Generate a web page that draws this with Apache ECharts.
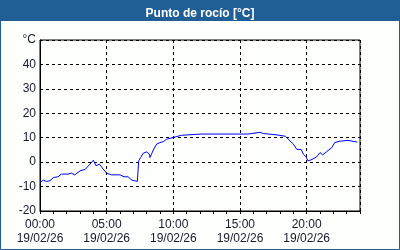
<!DOCTYPE html>
<html><head><meta charset="utf-8">
<script src="https://cdn.jsdelivr.net/npm/echarts@6/dist/echarts.min.js"></script>
<style>html,body{margin:0;padding:0;background:#fdfffd}#c{width:400px;height:250px}</style>
</head><body><div id="c"></div>
<script>
const titleText = 'Punto de rocío [°C]';
const dateLabel = '19/02/26';
const yUnitLabel = '°C';
// time in hours since 00:00
const hours = [0.0,0.25,0.5,0.75,1.0,1.35,1.6,2.1,2.35,2.6,3.0,3.4,3.75,4.0,4.2,4.45,4.75,5.0,5.35,6.0,6.3,6.6,6.9,7.1,7.3,7.4,7.55,7.75,8.0,8.2,8.25,8.5,8.75,9.0,9.25,9.5,10.0,10.6,12.1,15.6,15.75,16.5,16.75,17.7,18.4,18.75,19.0,19.25,19.6,19.75,19.95,20.1,20.4,20.75,21.0,21.2,21.5,21.9,22.1,22.5,23.1,23.8];
const dewPoint = [-8.3,-7.4,-7.9,-7.6,-6.3,-6.0,-4.9,-4.9,-4.5,-5.2,-3.6,-2.9,-0.8,0.8,-1.5,-0.8,-2.9,-4.5,-5.2,-5.2,-6.0,-6.0,-7.4,-7.6,-7.9,0.5,1.9,3.7,4.2,3.3,1.9,5.0,7.4,8.0,8.4,9.4,10.1,11.0,11.5,11.5,11.7,12.2,11.7,11.2,10.6,8.7,7.4,5.3,5.1,3.3,2.2,0.5,1.1,2.2,3.9,3.0,4.3,6.0,8.0,8.6,8.9,8.2];

const chart = echarts.init(document.getElementById('c'), null, {renderer:'canvas'});
const font = 'Liberation Sans';
chart.setOption({
  animation:false,
  backgroundColor:'#fdfffd',
  title:{text:titleText,left:'center',top:3,textStyle:{color:'#ffffff',fontWeight:'bold',fontSize:12,fontFamily:font}},
  graphic:[
    {type:'rect',shape:{x:0,y:0,width:400,height:21},style:{fill:'#1f5f95'},z:-1},
    {type:'rect',shape:{x:0.5,y:0.5,width:399,height:249},style:{fill:'none',stroke:'#1f5f95',lineWidth:1},z:10}
  ],
  grid:{left:40,top:40,width:320,height:171,show:true,borderColor:'#000',borderWidth:1,backgroundColor:'transparent'},
  xAxis:[{
    type:'value',min:0,max:24,interval:5,
    axisLine:{show:true,onZero:false,lineStyle:{color:'#000'}},
    axisTick:{show:false},
    splitLine:{show:true,lineStyle:{color:'#000',type:[3,3],width:1}},
    axisLabel:{fontFamily:font,fontSize:12,color:'#1a1a28',lineHeight:14,margin:7,
      formatter:v=> (v%5===0 && v<24) ? (String(v).padStart(2,'0')+':00\n'+dateLabel) : ''}
  },{
    type:'value',min:0,max:24,interval:1,position:'bottom',
    axisLine:{show:false,onZero:false},axisLabel:{show:false},splitLine:{show:false},
    axisTick:{show:true,length:3,lineStyle:{color:'#000'}}
  }],
  yAxis:{
    type:'value',min:-20,max:50,interval:10,
    axisLine:{show:true,onZero:false,lineStyle:{color:'#000'}},
    axisTick:{show:false},
    splitLine:{show:true,lineStyle:{color:'#000',type:[3,3],width:1}},
    axisLabel:{fontFamily:font,fontSize:12,color:'#1a1a28',margin:4,
      formatter:v=> v===50 ? yUnitLabel : String(v)}
  },
  series:[{type:'line',xAxisIndex:0,data:hours.map((h,i)=>[h,dewPoint[i]]),showSymbol:false,
    lineStyle:{color:'#0000ff',width:1},itemStyle:{color:'#0000ff'}}]
});
</script></body></html>
